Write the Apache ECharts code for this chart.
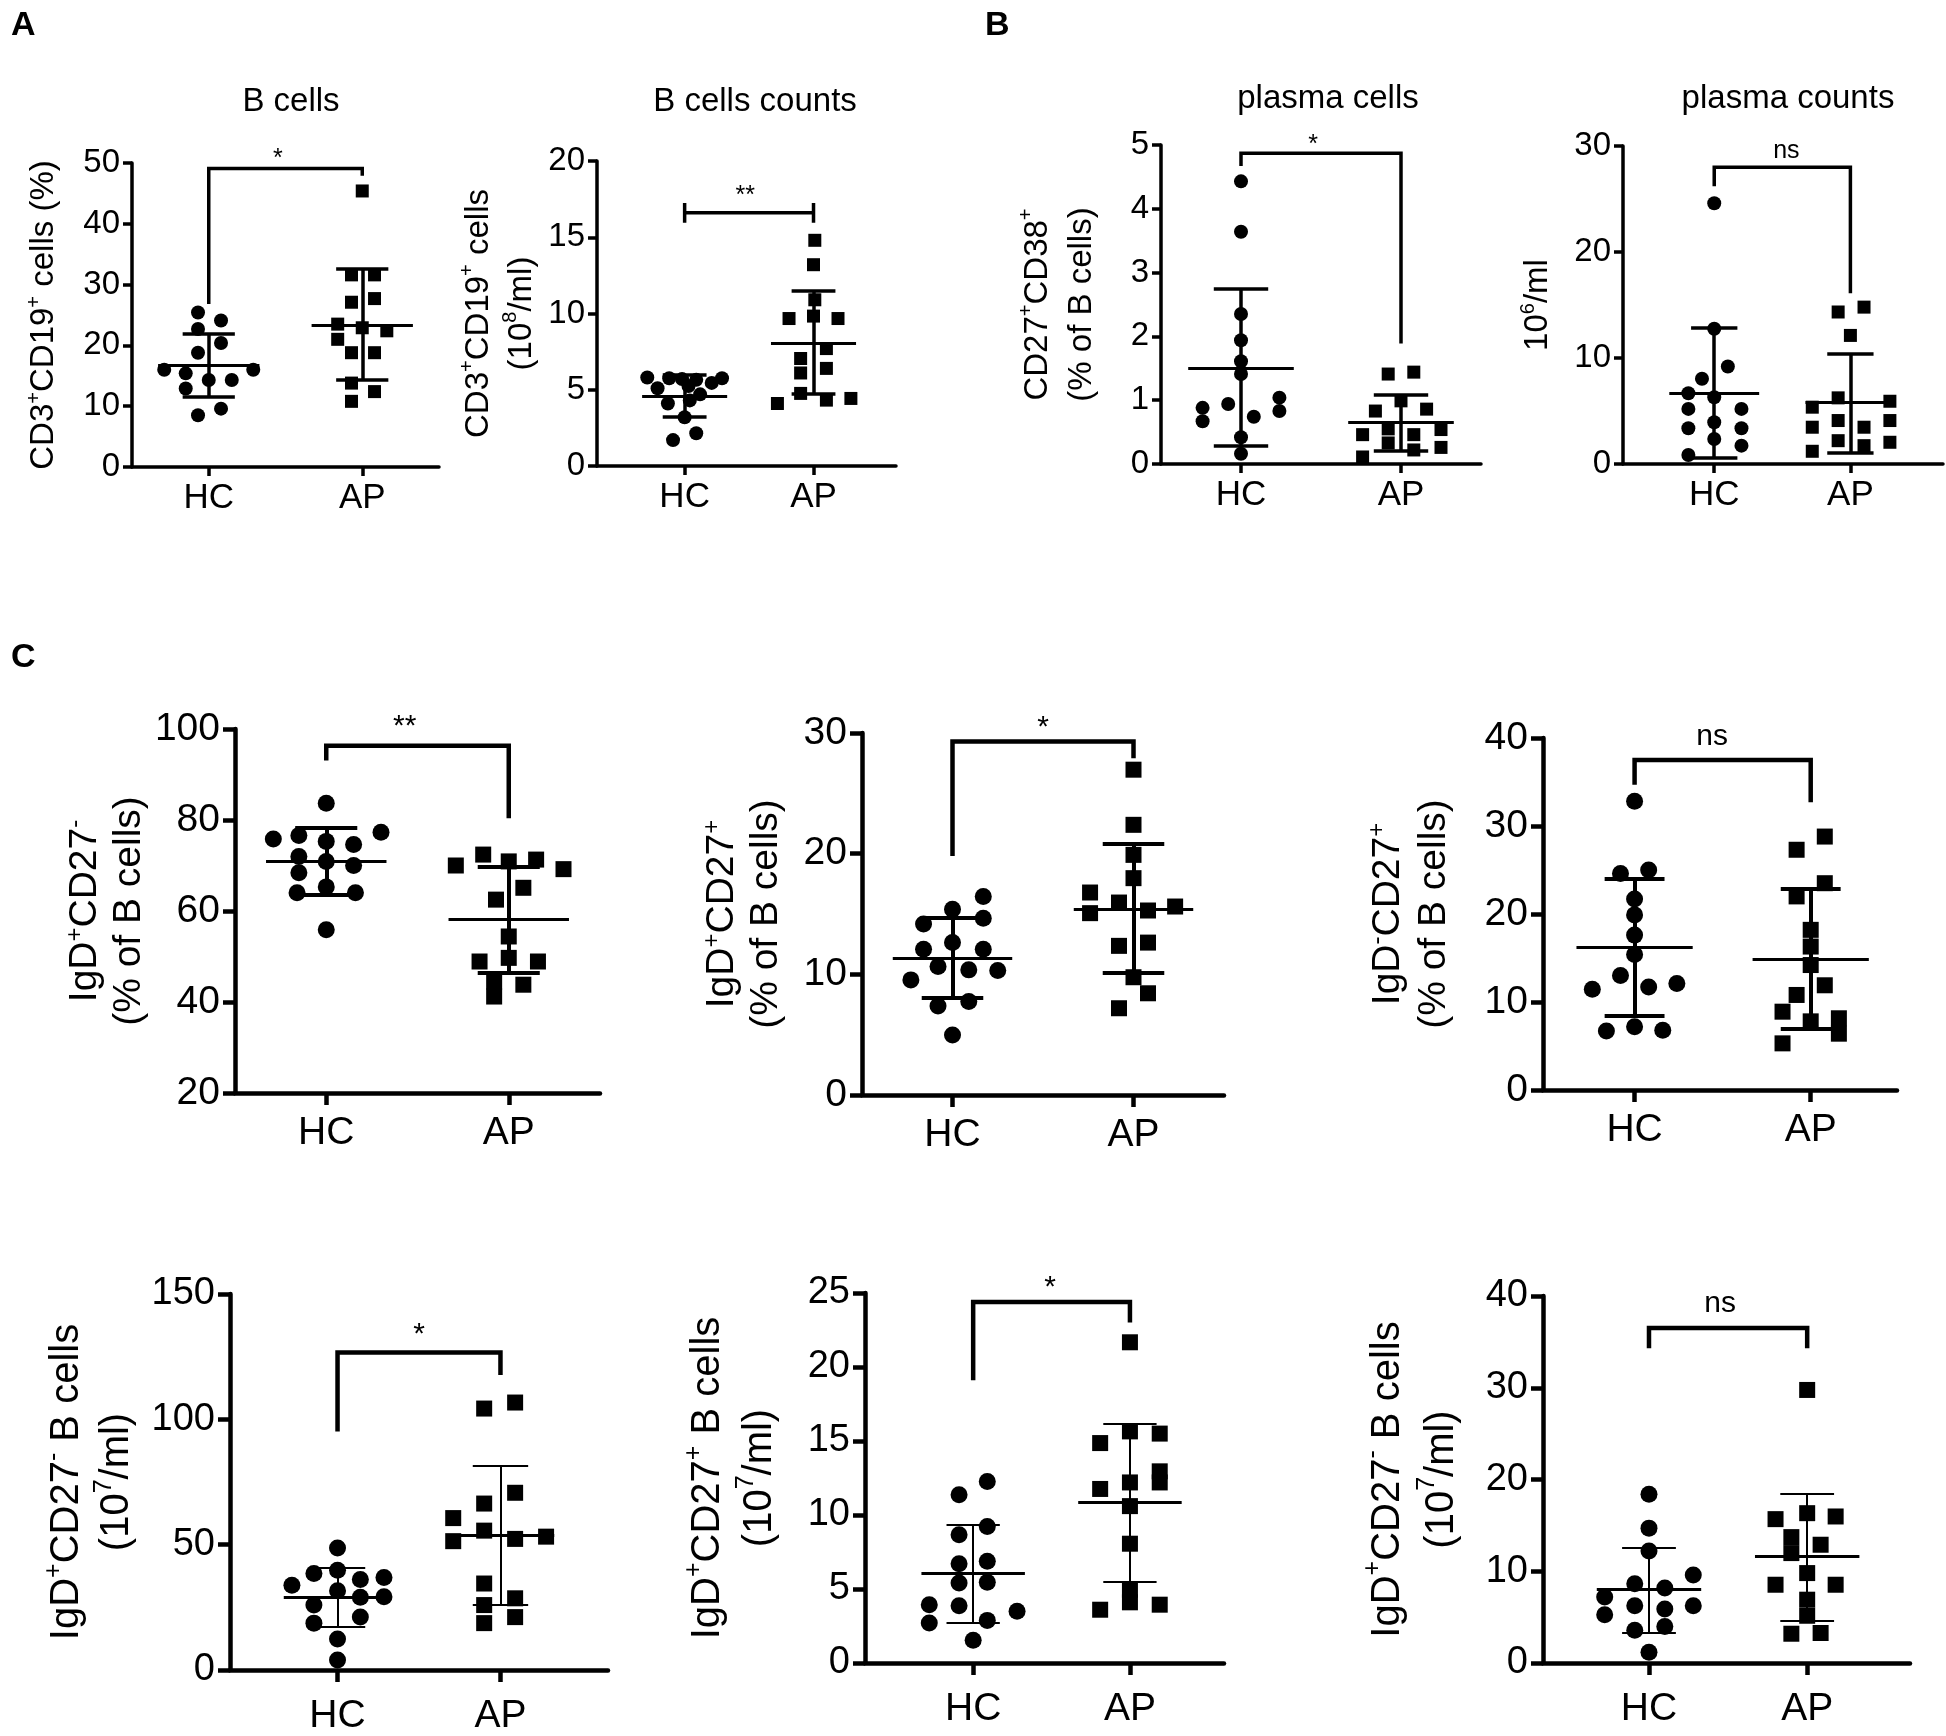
<!DOCTYPE html>
<html>
<head>
<meta charset="utf-8">
<title>B cell subsets, HC vs AP</title>
<script src="https://cdn.jsdelivr.net/npm/echarts@6/dist/echarts.min.js"></script>
<style>
  html, body { margin: 0; padding: 0; background: #fff; }
  #chart { width: 1946px; height: 1736px; }
</style>
</head>
<body>
<div id="chart"></div>
<script>
const groups = ['HC', 'AP'];

// each point: [horizontal jitter from the group centre, value]
// stats: [mean, mean - SD, mean + SD], HC then AP
// sig: [text, text x, text y, bracket y, HC leg end, AP leg end]

// A - B cells (%)
const bPctHC = [[-0.07, 25.4], [0.08, 24.1], [-0.07, 22.7], [0.08, 20.4], [-0.07, 18.8], [-0.29, 16.0], [0.29, 16.0],
  [-0.15, 15.4], [0, 14.3], [0.15, 14.3], [-0.15, 12.9], [0.08, 9.6], [-0.07, 8.5]];
const bPctAP = [[0, 45.4], [-0.07, 31.6], [0.08, 31.6], [0.08, 27.7], [-0.07, 27.1], [-0.16, 23.5], [0, 22.9],
  [0.16, 22.4], [-0.16, 21.0], [-0.07, 18.8], [0.08, 18.8], [-0.07, 13.8], [0.08, 12.4], [-0.07, 10.8]];
const bPctStats = [[16.8, 11.6, 21.9], [23.3, 14.3, 32.6]];
const bPctSig = ['*', 0.45, 51.7, 49.1, 26.8, 47.9];

// A - B cells counts
const bCountHC = [[-0.29, 5.8], [-0.21, 5.1], [-0.12, 5.75], [-0.02, 5.7], [0.09, 5.65], [0.03, 5.25], [0.21, 5.45],
  [0.29, 5.75], [0.12, 4.7], [0.04, 4.3], [-0.13, 4.1], [0, 3.2], [-0.09, 1.7], [0.09, 2.15]];
const bCountAP = [[0.01, 14.8], [0, 13.2], [0.01, 10.9], [-0.19, 9.67], [0, 9.83], [0.19, 9.67], [0.1, 7.7],
  [-0.1, 7.05], [0.1, 6.4], [-0.1, 6.1], [-0.1, 4.76], [-0.28, 4.1], [0.1, 4.32], [0.29, 4.43]];
const bCountStats = [[4.6, 3.23, 5.96], [8.08, 4.76, 11.46]];
const bCountSig = ['**', 0.47, 18.1, 16.6, 15.95, 17.25];

// B - plasma cells (%)
const plasmaPctHC = [[0, 4.43], [0, 3.64], [0, 2.35], [0, 1.94], [0, 1.61], [0, 1.41], [-0.24, 0.88], [-0.24, 0.67],
  [-0.08, 0.94], [0.08, 0.74], [0.24, 1.04], [0.24, 0.83], [0, 0.42], [0, 0.16]];
const plasmaPctAP = [[-0.08, 1.41], [0.08, 1.44], [0, 0.99], [-0.16, 0.83], [0.16, 0.86], [-0.24, 0.46], [-0.08, 0.55],
  [0.08, 0.46], [0.25, 0.54], [-0.08, 0.33], [0.08, 0.22], [0.25, 0.26], [-0.24, 0.11]];
const plasmaPctStats = [[1.5, 0.28, 2.74], [0.65, 0.21, 1.08]];
const plasmaPctSig = ['*', 0.45, 5.1, 4.87, 4.67, 1.89];

// B - plasma counts
const plasmaCountHC = [[0, 24.6], [0, 12.76], [0.1, 9.2], [-0.09, 8.04], [-0.19, 6.68], [0, 6.3], [-0.19, 5.2],
  [0.2, 5.2], [0, 3.94], [-0.19, 3.37], [0.2, 3.37], [0, 2.36], [0.2, 1.73], [-0.19, 0.85]];
const plasmaCountAP = [[-0.09, 14.34], [0.1, 14.8], [0, 12.13], [-0.09, 6.24], [-0.28, 5.36], [0.29, 5.92], [-0.09, 4.1],
  [-0.28, 3.47], [0.1, 3.47], [0.29, 4.1], [-0.09, 2.2], [0.1, 1.73], [0.29, 2.05], [-0.28, 1.2]];
const plasmaCountStats = [[6.68, 0.63, 12.83], [5.83, 1.1, 10.4]];
const plasmaCountSig = ['ns', 0.53, 29.5, 28.0, 26.2, 16.1];

// C - IgD+CD27- (% of B cells)
const naivePctHC = [[0, 83.7], [-0.29, 75.8], [-0.15, 76.6], [0.3, 77.3], [0, 75.3], [0.15, 74.6], [-0.15, 72.0],
  [0, 70.9], [0.15, 70.0], [-0.15, 68.4], [0, 65.3], [-0.16, 64.0], [0.16, 64.0], [0, 55.9]];
const naivePctAP = [[-0.14, 72.4], [-0.29, 70.0], [0, 70.9], [0.15, 71.3], [0.3, 69.2], [0.08, 65.1], [-0.07, 62.5],
  [0, 54.4], [-0.16, 48.9], [0, 49.7], [0.16, 48.9], [-0.08, 44.5], [0.08, 43.8], [-0.08, 41.2]];
const naivePctStats = [[70.9, 63.6, 78.4], [58.1, 46.4, 69.8]];
const naivePctSig = ['**', 0.43, 102.0, 96.3, 93.1, 80.4];

// C - IgD+CD27+ (% of B cells)
const unswPctHC = [[0.17, 16.45], [0, 15.4], [0.17, 14.65], [-0.16, 14.18], [0, 12.63], [-0.16, 12.08], [0.17, 12.08],
  [-0.08, 10.64], [0.09, 10.37], [0.25, 10.31], [-0.23, 9.54], [-0.08, 7.38], [0.09, 7.74], [0, 4.98]];
const unswPctAP = [[0, 26.96], [0, 22.39], [0, 19.9], [0, 17.97], [-0.24, 16.78], [-0.08, 15.95], [-0.24, 15.07],
  [0.08, 15.29], [0.23, 15.62], [-0.08, 12.36], [0.08, 12.63], [0, 9.76], [0.08, 8.43], [-0.08, 7.19]];
const unswPctStats = [[11.34, 8.07, 14.65], [15.43, 10.09, 20.82]];
const unswPctSig = ['*', 0.5, 31.05, 29.3, 19.8, 27.9];

// C - IgD-CD27+ (% of B cells)
const memPctHC = [[0, 32.8], [-0.08, 24.6], [0.08, 25.0], [0, 21.7], [0, 19.9], [0, 17.6], [0, 15.4], [-0.08, 13.0],
  [-0.24, 11.45], [0.08, 11.7], [0.24, 12.1], [-0.16, 6.7], [0, 7.2], [0.16, 6.8]];
const memPctAP = [[0.08, 28.8], [-0.08, 27.3], [0.08, 23.5], [-0.08, 22.0], [0, 18.2], [0, 16.3], [0, 14.2],
  [0.08, 11.9], [-0.08, 10.8], [-0.16, 8.9], [0.16, 8.15], [0, 7.8], [0.16, 6.4], [-0.16, 5.3]];
const memPctStats = [[16.2, 8.4, 24.0], [14.9, 7.0, 22.9]];
const memPctSig = ['ns', 0.44, 40.2, 37.5, 34.7, 32.7];

// C - IgD+CD27- B cells (10^7/ml)
const naiveCountHC = [[0, 48.7], [0, 39.8], [-0.145, 38.5], [0.14, 36.1], [0.285, 36.9], [-0.28, 33.8], [0, 31.6],
  [0.285, 29.2], [0.14, 29.0], [-0.145, 25.9], [0.14, 21.1], [-0.145, 18.7], [0, 12.4], [0, 4.0]];
const naiveCountAP = [[-0.1, 104.3], [0.09, 106.7], [0.09, 70.7], [-0.1, 66.4], [-0.29, 60.6], [-0.1, 55.6],
  [-0.29, 51.4], [0.09, 52.3], [0.28, 53.2], [-0.1, 34.5], [0.09, 28.6], [-0.1, 25.9], [0.09, 21.1], [-0.1, 18.7]];
const naiveCountStats = [[29.0, 17.4, 40.8], [53.6, 25.9, 81.3]];
const naiveCountSig = ['*', 0.5, 136.6, 126.7, 95.1, 117.7];

// C - IgD+CD27+ B cells (10^7/ml)
const unswCountHC = [[0.09, 12.27], [-0.09, 11.37], [0.09, 9.23], [-0.09, 8.67], [-0.09, 6.71], [0.09, 6.87],
  [-0.09, 5.41], [0.09, 5.45], [-0.28, 3.94], [-0.09, 3.87], [0.28, 3.49], [-0.28, 2.7], [0.09, 2.88], [0, 1.53]];
const unswCountAP = [[0, 21.67], [0, 15.65], [0.19, 15.5], [-0.19, 14.86], [0.19, 12.95], [0, 12.2], [0.19, 12.2],
  [-0.19, 11.76], [0, 10.6], [0, 8.06], [0, 4.95], [0, 4.1], [-0.19, 3.6], [0.19, 3.94]];
const unswCountStats = [[6.04, 2.7, 9.35], [10.86, 5.5, 16.17]];
const unswCountSig = ['*', 0.49, 25.86, 24.4, 19.1, 23.0];

// C - third count panel (labelled IgD+CD27- B cells in the figure)
const thirdCountHC = [[0, 18.4], [0, 14.7], [0, 12.2], [0.28, 9.6], [-0.09, 8.64], [0.1, 8.17], [-0.28, 7.19],
  [0.28, 6.24], [-0.09, 6.24], [0.1, 5.88], [-0.28, 5.26], [0.1, 3.99], [-0.09, 3.56], [0, 1.16]];
const thirdCountAP = [[0, 29.76], [0, 16.33], [-0.2, 15.68], [0.18, 15.97], [-0.1, 13.72], [0.085, 12.89],
  [-0.1, 11.98], [0, 9.8], [-0.2, 8.53], [0.18, 8.53], [0, 6.9], [0, 5.15], [-0.1, 3.19], [0.085, 3.27]];
const thirdCountStats = [[7.99, 3.34, 12.52], [11.6, 4.65, 18.5]];
const thirdCountSig = ['ns', 0.45, 39.2, 36.5, 34.3, 34.3];

const FONT = 'Liberation Sans, Arial, Helvetica, sans-serif';

// looks per row of the figure
const rowStyle = {
  top: { tick: 33, cat: 35, name: 33, sig: 25, axisW: 3.5, tickLen: 9, labMargin: 12, catMargin: 14, dot: 14, sq: 13, meanW: 3.2, sdW: 3.5, brW: 3.5 },
  mid: { tick: 39, cat: 39, name: 39, sig: 30, axisW: 4.5, tickLen: 12, labMargin: 15, catMargin: 21, dot: 17, sq: 16, meanW: 3, sdW: 4, brW: 4.5 },
  bot: { tick: 38, cat: 39, name: 40, sig: 30, axisW: 4.5, tickLen: 12, labMargin: 15, catMargin: 27, dot: 17, sq: 16, meanW: 3.2, sdW: 2, brW: 4.5 }
};

const panels = [
  { row: 'top', box: [132, 163, 307, 304], xr: [-0.5, 1.5], y: [0, 50, 10], title: 'B cells', titlePos: [286, 80],
    name: '{n|CD3}{s|+}{n|CD19}{s|+}{n| cells (%)}', nameGap: 68, lh: 40,
    hc: bPctHC, ap: bPctAP, stats: bPctStats, sig: bPctSig },
  { row: 'top', box: [597, 161, 299, 305], xr: [-0.68, 1.64], y: [0, 20, 5], title: 'B cells counts', titlePos: [750, 80],
    name: '{n|CD3}{s|+}{n|CD19}{s|+}{n| cells}\n{n|(10}{s|8}{n|/ml)}', nameGap: 54, lh: 43, bar: true,
    hc: bCountHC, ap: bCountAP, stats: bCountStats, sig: bCountSig },
  { row: 'top', box: [1161, 145, 320, 319], xr: [-0.5, 1.5], y: [0, 5, 1], title: 'plasma cells', titlePos: [1323, 77],
    name: '{n|CD27}{s|+}{n|CD38}{s|+}\n{n|(% of B cells)}', nameGap: 57, lh: 44,
    hc: plasmaPctHC, ap: plasmaPctAP, stats: plasmaPctStats, sig: plasmaPctSig },
  { row: 'top', box: [1623, 146, 320, 318], xr: [-0.67, 1.68], y: [0, 30, 10], title: 'plasma counts', titlePos: [1783, 77],
    name: '{n|10}{s|6}{n|/ml}', nameGap: 65, lh: 40,
    hc: plasmaCountHC, ap: plasmaCountAP, stats: plasmaCountStats, sig: plasmaCountSig },
  { row: 'mid', box: [235, 729, 365, 364], xr: [-0.5, 1.5], y: [20, 100, 20],
    name: '{n|IgD}{s|+}{n|CD27}{s|-}\n{n|(% of B cells)}', nameGap: 80, lh: 44,
    hc: naivePctHC, ap: naivePctAP, stats: naivePctStats, sig: naivePctSig },
  { row: 'mid', box: [862, 733, 362, 362], xr: [-0.5, 1.5], y: [0, 30, 10],
    name: '{n|IgD}{s|+}{n|CD27}{s|+}\n{n|(% of B cells)}', nameGap: 74, lh: 44,
    hc: unswPctHC, ap: unswPctAP, stats: unswPctStats, sig: unswPctSig },
  { row: 'mid', box: [1543, 738, 354, 352], xr: [-0.52, 1.49], y: [0, 40, 10],
    name: '{n|IgD}{s|-}{n|CD27}{s|+}\n{n|(% of B cells)}', nameGap: 86, lh: 46,
    hc: memPctHC, ap: memPctAP, stats: memPctStats, sig: memPctSig },
  { row: 'bot', box: [230, 1294, 378, 380], xr: [-0.66, 1.66], y: [0, 150, 50],
    name: '{n|IgD}{s|+}{n|CD27}{s|-}{n| B cells}\n{n|(10}{s|7}{n|/ml)}', nameGap: 88, lh: 50,
    hc: naiveCountHC, ap: naiveCountAP, stats: naiveCountStats, sig: naiveCountSig },
  { row: 'bot', box: [865, 1293, 359, 370], xr: [-0.69, 1.6], y: [0, 25, 5],
    name: '{n|IgD}{s|+}{n|CD27}{s|+}{n| B cells}\n{n|(10}{s|7}{n|/ml)}', nameGap: 79, lh: 52,
    hc: unswCountHC, ap: unswCountAP, stats: unswCountStats, sig: unswCountSig },
  { row: 'bot', box: [1543, 1296, 367, 367], xr: [-0.67, 1.65], y: [0, 40, 10],
    name: '{n|IgD}{s|+}{n|CD27}{s|-}{n| B cells}\n{n|(10}{s|7}{n|/ml)}', nameGap: 74, lh: 54,
    hc: thirdCountHC, ap: thirdCountAP, stats: thirdCountStats, sig: thirdCountSig }
];

const MEAN_HALF = 0.33;
const CAP_HALF = 0.17;

const grid = [], xAxis = [], yAxis = [], series = [];
const title = [
  { text: 'A', left: 6, top: 4, textStyle: { fontSize: 34, fontWeight: 'bold', fontFamily: FONT, color: '#000' } },
  { text: 'B', left: 980, top: 4, textStyle: { fontSize: 34, fontWeight: 'bold', fontFamily: FONT, color: '#000' } },
  { text: 'C', left: 6, top: 636, textStyle: { fontSize: 34, fontWeight: 'bold', fontFamily: FONT, color: '#000' } }
];

panels.forEach((p, i) => {
  const st = rowStyle[p.row];
  const axisLine = { show: true, onZero: false, lineStyle: { color: '#000', width: st.axisW } };
  const axisTick = { show: true, length: st.tickLen, lineStyle: { color: '#000', width: st.axisW } };

  grid.push({ left: p.box[0], top: p.box[1], width: p.box[2], height: p.box[3] });

  xAxis.push({
    type: 'value', gridIndex: i, min: p.xr[0], max: p.xr[1],
    axisLine: axisLine,
    axisTick: Object.assign({ customValues: [0, 1] }, axisTick),
    axisLabel: {
      customValues: [0, 1], formatter: v => groups[Math.round(v)],
      fontSize: st.cat, fontFamily: FONT, color: '#000', margin: st.catMargin
    },
    splitLine: { show: false }
  });

  const sup = Math.round(st.name * 0.62);
  yAxis.push({
    type: 'value', gridIndex: i, min: p.y[0], max: p.y[1], interval: p.y[2],
    axisLine: axisLine, axisTick: axisTick,
    axisLabel: { fontSize: st.tick, fontFamily: FONT, color: '#000', margin: st.labMargin },
    splitLine: { show: false },
    name: p.name, nameLocation: 'middle', nameRotate: 90, nameGap: p.nameGap,
    nameTextStyle: {
      fontFamily: FONT, color: '#000', fontSize: st.name, lineHeight: p.lh,
      rich: {
        n: { fontFamily: FONT, color: '#000', fontSize: st.name, lineHeight: p.lh },
        s: { fontFamily: FONT, color: '#000', fontSize: sup, lineHeight: Math.round(p.lh * 0.62), verticalAlign: 'top' }
      }
    }
  });

  if (p.title) {
    title.push({ text: p.title, left: p.titlePos[0], top: p.titlePos[1], textAlign: 'center',
      textStyle: { fontSize: 33, fontWeight: 'normal', fontFamily: FONT, color: '#000' } });
  }

  const idx = { xAxisIndex: i, yAxisIndex: i };

  series.push(Object.assign({
    type: 'scatter', name: 'HC', symbol: 'circle', symbolSize: st.dot,
    data: p.hc.map(d => [d[0], d[1]]), itemStyle: { color: '#000', opacity: 1 }
  }, idx));
  series.push(Object.assign({
    type: 'scatter', name: 'AP', symbol: 'rect', symbolSize: st.sq,
    data: p.ap.map(d => [1 + d[0], d[1]]), itemStyle: { color: '#000', opacity: 1 }
  }, idx));

  // mean line
  series.push(Object.assign({
    type: 'lines', coordinateSystem: 'cartesian2d', z: 3,
    lineStyle: { color: '#000', width: st.meanW, opacity: 1 },
    data: p.stats.map((s, g) => ({ coords: [[g - MEAN_HALF, s[0]], [g + MEAN_HALF, s[0]]] }))
  }, idx));

  // SD whiskers with caps
  const sd = [];
  p.stats.forEach((s, g) => {
    sd.push({ coords: [[g, s[1]], [g, s[2]]] });
    sd.push({ coords: [[g - CAP_HALF, s[1]], [g + CAP_HALF, s[1]]] });
    sd.push({ coords: [[g - CAP_HALF, s[2]], [g + CAP_HALF, s[2]]] });
  });
  series.push(Object.assign({
    type: 'lines', coordinateSystem: 'cartesian2d', z: 3,
    lineStyle: { color: '#000', width: st.sdW, opacity: 1 }, data: sd
  }, idx));

  // significance bracket
  const s = p.sig;
  const br = p.bar
    ? [{ coords: [[0, s[3]], [1, s[3]]] }, { coords: [[0, s[4]], [0, s[5]]] }, { coords: [[1, s[4]], [1, s[5]]] }]
    : [{ coords: [[0, s[4]], [0, s[3]], [1, s[3]], [1, s[5]]] }];
  series.push(Object.assign({
    type: 'lines', coordinateSystem: 'cartesian2d', polyline: true, z: 3,
    lineStyle: { color: '#000', width: st.brW, opacity: 1, join: 'miter' }, data: br
  }, idx));

  const star = s[0].indexOf('*') === 0;
  series.push(Object.assign({
    type: 'scatter', clip: false, symbolSize: 1, silent: true, z: 5,
    itemStyle: { color: 'rgba(255,255,255,0)' },
    data: [[s[1], s[2]]],
    label: {
      show: true, position: 'inside', formatter: s[0], color: '#000', fontFamily: FONT, opacity: 1,
      fontSize: st.sig, offset: [0, star ? Math.round(st.sig * 0.22) : 0]
    }
  }, idx));
});

const chart = echarts.init(document.getElementById('chart'), null, { renderer: 'canvas' });
chart.setOption({
  animation: false,
  backgroundColor: '#fff',
  textStyle: { fontFamily: FONT, color: '#000' },
  title: title,
  grid: grid,
  xAxis: xAxis,
  yAxis: yAxis,
  series: series
});
</script>
</body>
</html>
